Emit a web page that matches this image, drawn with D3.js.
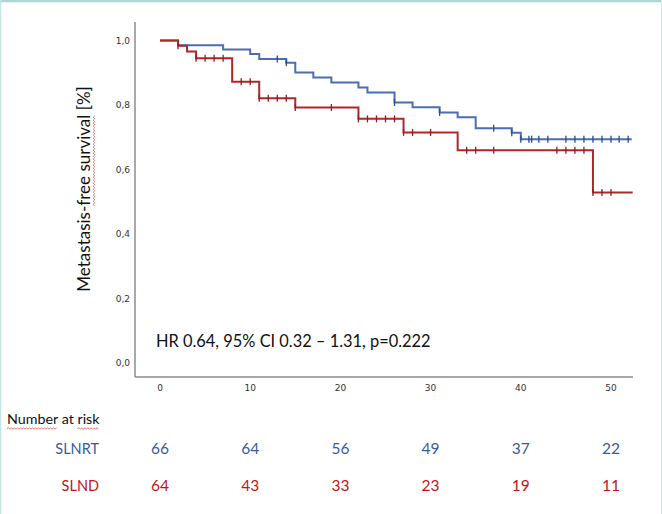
<!DOCTYPE html>
<html>
<head>
<meta charset="utf-8">
<script src="https://cdn.jsdelivr.net/npm/d3@7"></script>
<style>
  html, body { margin: 0; padding: 0; background: #fff; }
  svg { display: block; }
</style>
</head>
<body>
<svg id="chart" width="662" height="514"></svg>
<script>
// ---------- data ----------
const xTicks = [0, 10, 20, 30, 40, 50];
const yTicks = [0, 0.2, 0.4, 0.6, 0.8, 1.0];

const slnrtEventTimes = [2, 7, 10, 11, 14, 15, 17, 19, 22, 23, 26, 28, 31, 33, 35, 39, 40];
const slnrtEventSurv  = [0.985, 0.972, 0.958, 0.943, 0.931, 0.901, 0.885, 0.870, 0.854, 0.839, 0.808, 0.793, 0.777, 0.762, 0.728, 0.714, 0.694];
const slnrtCensored   = [13, 14, 26, 31, 37, 39, 40, 40.9, 41.2, 42, 43, 45, 46, 47, 48, 49, 50, 50.9, 51.9];
const slnrtEnd = 52.3;

const slndEventTimes = [2, 3, 4, 8, 11, 15, 22, 27, 33, 48];
const slndEventSurv  = [0.984, 0.966, 0.945, 0.872, 0.821, 0.792, 0.757, 0.715, 0.660, 0.529];
const slndCensored   = [2, 4, 5, 6, 7, 9, 10, 11, 12, 13, 14, 15, 19, 22, 23, 24, 25, 26, 27, 28, 30, 34, 35, 37, 44, 45, 46, 47, 48, 49, 50];
const slndEnd = 52.4;

const groupNames = ["SLNRT", "SLND"];
const riskSLNRT = [66, 64, 56, 49, 37, 22];
const riskSLND  = [64, 43, 33, 23, 19, 11];

const hrText = "HR 0.64, 95% CI 0.32 \u2013 1.31, p=0.222";
const yLabel = "Metastasis-free survival [%]";

// ---------- setup ----------
const svg = d3.select("#chart");
const W = 662, H = 514;

// frame (light teal border)
svg.append("line").attr("x1", 0).attr("x2", W).attr("y1", 1).attr("y2", 1)
  .attr("stroke", "#a9d9d5").attr("stroke-width", 2.5);
svg.append("line").attr("x1", 0.5).attr("x2", 0.5).attr("y1", 0).attr("y2", H)
  .attr("stroke", "#c4e6e3").attr("stroke-width", 1.5);
svg.append("line").attr("x1", W - 0.5).attr("x2", W - 0.5).attr("y1", 0).attr("y2", H)
  .attr("stroke", "#d3ecea").attr("stroke-width", 1);

const x = d3.scaleLinear().domain([0, 50]).range([160, 611]);
const y = d3.scaleLinear().domain([0, 1]).range([363, 40.5]);

const axisLeftX = 135, axisRightX = 633, axisBottomY = 377, axisTopY = 22;

// axes lines
svg.append("line").attr("x1", axisLeftX).attr("x2", axisLeftX)
  .attr("y1", axisTopY).attr("y2", axisBottomY)
  .attr("stroke", "#7a7a7a").attr("stroke-width", 1.3);
svg.append("line").attr("x1", axisLeftX).attr("x2", axisRightX)
  .attr("y1", axisBottomY).attr("y2", axisBottomY)
  .attr("stroke", "#8a8a8a").attr("stroke-width", 1.3);

// y tick labels
const yFmt = d => d3.format(".1f")(d).replace(".", ",");
svg.append("g").selectAll("text").data(yTicks).join("text")
  .attr("x", 130).attr("y", d => y(d)).attr("dy", "0.35em")
  .attr("text-anchor", "end")
  .attr("font-family", "DejaVu Sans, sans-serif").attr("font-size", 9)
  .attr("fill", "#333")
  .text(yFmt);

// x tick labels
svg.append("g").selectAll("text").data(xTicks).join("text")
  .attr("x", d => x(d)).attr("y", 388).attr("dy", "0.35em")
  .attr("text-anchor", "middle")
  .attr("font-family", "DejaVu Sans, sans-serif").attr("font-size", 9)
  .attr("fill", "#333")
  .text(d => d);

// y axis label
const yl = svg.append("text")
  .attr("transform", "translate(90,189) rotate(-90)")
  .attr("text-anchor", "middle")
  .attr("font-family", "Lato, sans-serif").attr("font-size", 17)
  .attr("fill", "#111")
  .text(yLabel);

// ---------- curves ----------
function stepValue(times, surv, t) {
  let s = 1;
  for (let i = 0; i < times.length; i++) if (times[i] <= t) s = surv[i];
  return s;
}
function curvePoints(times, surv, end) {
  const pts = [[0, 1]];
  times.forEach((t, i) => pts.push([t, surv[i]]));
  pts.push([end, surv[surv.length - 1]]);
  return pts;
}
const line = d3.line().x(d => x(d[0])).y(d => y(d[1])).curve(d3.curveStepAfter);

const series = [
  { times: slnrtEventTimes, surv: slnrtEventSurv, cens: slnrtCensored, end: slnrtEnd, color: "#4a6db4", mark: "#2d4b8e" },
  { times: slndEventTimes,  surv: slndEventSurv,  cens: slndCensored,  end: slndEnd,  color: "#b0272a", mark: "#961c1f" }
];

series.forEach(s => {
  svg.append("path").datum(curvePoints(s.times, s.surv, s.end))
    .attr("d", line).attr("fill", "none")
    .attr("stroke", s.color).attr("stroke-width", 2);
});
series.forEach(s => {
  svg.append("g").selectAll("line").data(s.cens).join("line")
    .attr("x1", d => x(d)).attr("x2", d => x(d))
    .attr("y1", d => y(stepValue(s.times, s.surv, d)) - 3.5)
    .attr("y2", d => y(stepValue(s.times, s.surv, d)) + 3.5)
    .attr("stroke", s.mark).attr("stroke-width", 1.3);
});

// HR annotation
svg.append("text").attr("x", 156).attr("y", 347)
  .attr("font-family", "Lato, sans-serif").attr("font-size", 16.4)
  .attr("fill", "#111").text(hrText);

// ---------- number at risk ----------
const nar = svg.append("text").attr("x", 7).attr("y", 424)
  .attr("font-family", "Lato, sans-serif").attr("font-size", 14.3)
  .attr("fill", "#111").text("Number at risk");

const rows = [
  { name: groupNames[0], vals: riskSLNRT, color: "#3a5a9e", yy: 449 },
  { name: groupNames[1], vals: riskSLND,  color: "#c0161c", yy: 486 }
];
rows.forEach(r => {
  svg.append("text").attr("x", 99).attr("y", r.yy).attr("dy", "0.35em")
    .attr("text-anchor", "end")
    .attr("font-family", "Lato, sans-serif").attr("font-size", 14.5)
    .attr("fill", r.color).text(r.name);
  svg.append("g").selectAll("text").data(r.vals).join("text")
    .attr("x", (d, i) => x(xTicks[i])).attr("y", r.yy).attr("dy", "0.35em")
    .attr("text-anchor", "middle")
    .attr("font-family", "Lato, sans-serif").attr("font-size", 15.5)
    .attr("fill", r.color).text(d => d);
});

// spell-check squiggles (decorative)
function squiggle(x0, x1, yy) {
  let d = "M" + x0 + "," + yy;
  let up = true;
  for (let xx = x0 + 1.5; xx <= x1; xx += 1.5) { d += "L" + xx + "," + (yy + (up ? -0.8 : 0.8)); up = !up; }
  return d;
}
const narNode = nar.node();
const numW = narNode.getSubStringLength(0, 6);
const riskStart = narNode.getSubStringLength(0, 10);
const riskW = narNode.getSubStringLength(10, 4);
svg.append("path").attr("d", squiggle(7, 7 + numW, 428.5))
  .attr("fill", "none").attr("stroke", "#e06b6b").attr("stroke-width", 0.9);
svg.append("path").attr("d", squiggle(7 + riskStart, 7 + riskStart + riskW, 428.5))
  .attr("fill", "none").attr("stroke", "#e06b6b").attr("stroke-width", 0.9);

const ylNode = yl.node();
const total = ylNode.getComputedTextLength();
const fStart = ylNode.getSubStringLength(0, 11);
const fLen = ylNode.getSubStringLength(11, 13);
const yStartText = 189 + total / 2;
const sq = svg.append("g").attr("transform", "translate(94," + (yStartText - fStart) + ") rotate(-90)");
sq.append("path").attr("d", squiggle(0, fLen, 0))
  .attr("fill", "none").attr("stroke", "#e06b6b").attr("stroke-width", 0.9);
</script>
</body>
</html>
